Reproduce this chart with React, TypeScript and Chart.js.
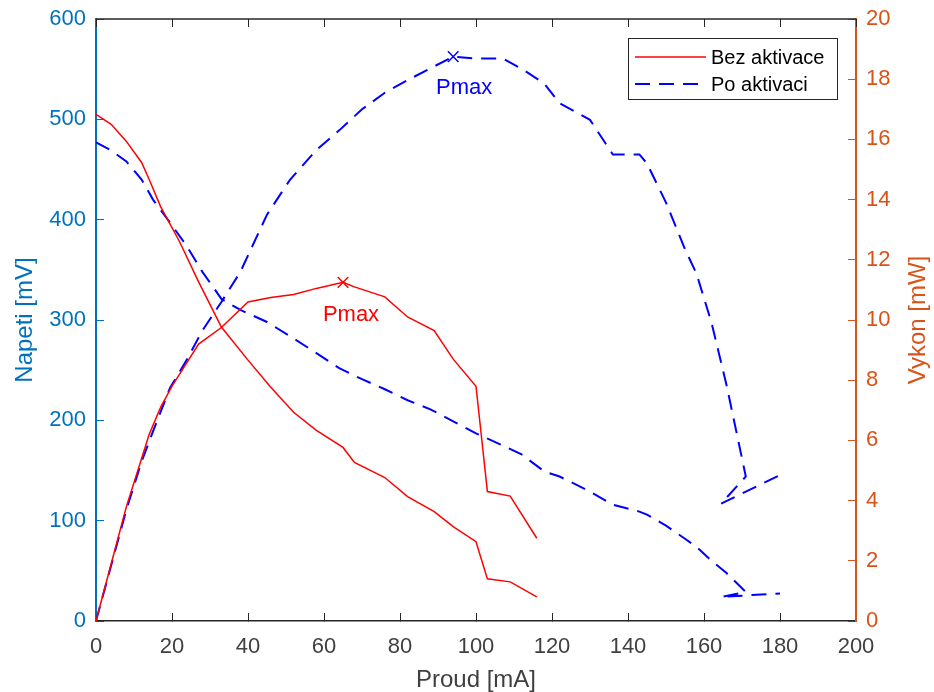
import React, { useEffect, useRef } from "react";
import { Chart, registerables } from "chart.js";

Chart.register(...registerables);

// ---- Data ----
// Bez aktivace (without activation)
const redCurrent = [0, 4, 8, 12, 14, 17, 20, 22, 27, 33, 40, 46, 52, 58, 65, 68, 76, 82, 89, 94, 100, 103, 109, 116];
const redVoltage = [505, 495, 478, 457, 440, 413, 392, 378, 338, 293, 260, 233, 208, 190, 173, 158, 143, 124, 109, 94, 79, 42, 39, 24];
const redPower = [0, 1.9, 3.8, 5.4, 6.2, 7.1, 7.8, 8.2, 9.2, 9.75, 10.6, 10.75, 10.85, 11.05, 11.25, 11.1, 10.77, 10.1, 9.65, 8.7, 7.8, 4.3, 4.15, 2.75];

// Po aktivaci (after activation)
const blueCurrent = [0, 4, 8, 12, 15, 19.5, 24, 28, 33, 38, 45, 51, 58, 64, 70, 76, 82, 88, 94, 100, 107, 112, 118, 122, 130, 136, 143, 145, 150, 155, 158, 162, 166, 171, 164.5, 180];
const blueVoltage = [477, 469, 458, 440, 420, 397, 373, 348, 321, 310, 298, 284, 267, 252, 241, 231, 220, 211, 199, 187, 175, 166, 149, 144, 129, 116, 109, 106, 95, 82, 74, 60, 47.5, 29, 24, 27.5];
const bluePower = [0, 1.85, 3.7, 5.3, 6.3, 7.75, 8.7, 9.65, 10.6, 11.6, 13.5, 14.65, 15.65, 16.3, 17.0, 17.55, 17.97, 18.36, 18.75, 18.69, 18.69, 18.35, 17.85, 17.2, 16.65, 15.5, 15.5, 15.2, 13.9, 12.35, 11.55, 9.9, 7.8, 4.8, 3.9, 4.85];

// Maximum power points
const redPmaxCurrent = [65];
const redPmaxPower = [11.25];
const bluePmaxCurrent = [94];
const bluePmaxPower = [18.75];

// Axis tick settings
const xTicks = { min: 0, max: 200, step: 20 };
const voltageTicks = { min: 0, max: 600, step: 100 };
const powerTicks = { min: 0, max: 20, step: 2 };

const seriesNames = ["Bez aktivace", "Po aktivaci"];

const FONT = "'Liberation Sans', Arial, Helvetica, sans-serif";
const RED = "#FF0000";
const BLUE = "#0000FF";
const LEFT_COLOR = "#0072BD";
const RIGHT_COLOR = "#D95319";
const DARK = "#262626";
const TEXT_DARK = "#404040";
const DASH = [15, 9];

const toPoints = (xs: number[], ys: number[]) => xs.map((x, i) => ({ x, y: ys[i] }));

const clearPadding = (s: any) => {
  s.paddingTop = 0;
  s.paddingBottom = 0;
  s.paddingLeft = 0;
  s.paddingRight = 0;
};

const overlayPlugin = {
  id: "overlay",
  afterDraw(chart: any) {
    const ctx: CanvasRenderingContext2D = chart.ctx;
    const area = chart.chartArea;
    const midY = (area.top + area.bottom) / 2;
    const xScale = chart.scales.x;
    ctx.save();

    // Top box edge with inward ticks (MATLAB "box on")
    ctx.strokeStyle = DARK;
    ctx.lineWidth = 1.5;
    ctx.beginPath();
    ctx.moveTo(area.left, area.top);
    ctx.lineTo(area.right, area.top);
    ctx.stroke();
    ctx.lineWidth = 1;
    ctx.beginPath();
    for (const t of xScale.ticks) {
      const px = Math.round(xScale.getPixelForValue(t.value)) + 0.5;
      ctx.moveTo(px, area.top);
      ctx.lineTo(px, area.top + 8);
    }
    ctx.stroke();

    // Y axis titles (both read bottom-to-top)
    ctx.font = `24px ${FONT}`;
    ctx.textAlign = "center";
    ctx.textBaseline = "alphabetic";
    ctx.fillStyle = LEFT_COLOR;
    ctx.save();
    ctx.translate(32, midY);
    ctx.rotate(-Math.PI / 2);
    ctx.fillText("Napeti [mV]", 0, 0);
    ctx.restore();
    ctx.fillStyle = RIGHT_COLOR;
    ctx.save();
    ctx.translate(925, midY);
    ctx.rotate(-Math.PI / 2);
    ctx.fillText("Vykon [mW]", 0, 0);
    ctx.restore();

    // Pmax labels
    ctx.font = `22px ${FONT}`;
    ctx.textAlign = "center";
    ctx.textBaseline = "middle";
    const rp = chart.getDatasetMeta(4).data[0];
    const bp = chart.getDatasetMeta(5).data[0];
    if (rp) {
      ctx.fillStyle = RED;
      ctx.fillText("Pmax", rp.x + 8, rp.y + 33);
    }
    if (bp) {
      ctx.fillStyle = BLUE;
      ctx.fillText("Pmax", bp.x + 11, bp.y + 31);
    }

    // Legend
    const lx = 628.5, ly = 38.5, lw = 209, lh = 61;
    ctx.fillStyle = "#FFFFFF";
    ctx.fillRect(lx, ly, lw, lh);
    ctx.strokeStyle = DARK;
    ctx.lineWidth = 1;
    ctx.strokeRect(lx, ly, lw, lh);
    const rows = [
      { y: 57, color: RED, dash: [] as number[], width: 1.5, text: seriesNames[0] },
      { y: 84, color: BLUE, dash: DASH, width: 2, text: seriesNames[1] },
    ];
    ctx.font = `20px ${FONT}`;
    ctx.textAlign = "left";
    ctx.textBaseline = "middle";
    for (const r of rows) {
      ctx.beginPath();
      ctx.setLineDash(r.dash);
      ctx.strokeStyle = r.color;
      ctx.lineWidth = r.width;
      ctx.moveTo(635, r.y);
      ctx.lineTo(706, r.y);
      ctx.stroke();
      ctx.setLineDash([]);
      ctx.fillStyle = "#000000";
      ctx.fillText(r.text, 711, r.y + 1);
    }
    ctx.restore();
  },
};

export default function App() {
  const ref = useRef<HTMLCanvasElement>(null);

  useEffect(() => {
    document.body.style.margin = "0";
    const canvas = ref.current;
    if (!canvas) return;
    const tickFont = { family: FONT, size: 22 };
    const chart = new Chart(canvas, {
      type: "scatter",
      data: {
        datasets: [
          {
            label: seriesNames[0],
            data: toPoints(redCurrent, redVoltage),
            showLine: true,
            borderColor: RED,
            backgroundColor: RED,
            borderWidth: 1.5,
            pointRadius: 0,
            yAxisID: "y",
          },
          {
            label: seriesNames[0] + " P",
            data: toPoints(redCurrent, redPower),
            showLine: true,
            borderColor: RED,
            backgroundColor: RED,
            borderWidth: 1.5,
            pointRadius: 0,
            yAxisID: "y1",
          },
          {
            label: seriesNames[1],
            data: toPoints(blueCurrent, blueVoltage),
            showLine: true,
            borderColor: BLUE,
            backgroundColor: BLUE,
            borderWidth: 2,
            borderDash: DASH,
            pointRadius: 0,
            yAxisID: "y",
          },
          {
            label: seriesNames[1] + " P",
            data: toPoints(blueCurrent, bluePower),
            showLine: true,
            borderColor: BLUE,
            backgroundColor: BLUE,
            borderWidth: 2,
            borderDash: DASH,
            pointRadius: 0,
            yAxisID: "y1",
          },
          {
            label: "Pmax red",
            data: toPoints(redPmaxCurrent, redPmaxPower),
            showLine: false,
            pointStyle: "crossRot",
            pointRadius: 7.5,
            borderColor: RED,
            borderWidth: 1.5,
            yAxisID: "y1",
          },
          {
            label: "Pmax blue",
            data: toPoints(bluePmaxCurrent, bluePmaxPower),
            showLine: false,
            pointStyle: "crossRot",
            pointRadius: 7.5,
            borderColor: BLUE,
            borderWidth: 1.5,
            yAxisID: "y1",
          },
        ],
      },
      options: {
        responsive: false,
        animation: false,
        layout: { padding: { top: 19, left: 0, right: 0, bottom: 0 } },
        plugins: {
          legend: { display: false },
          tooltip: { enabled: false },
        },
        scales: {
          x: {
            type: "linear",
            position: "bottom",
            min: xTicks.min,
            max: xTicks.max,
            ticks: { stepSize: xTicks.step, color: TEXT_DARK, font: tickFont, padding: 21, autoSkip: false, maxRotation: 0 },
            grid: { drawOnChartArea: false, tickLength: -8, color: DARK, lineWidth: 1 },
            border: { color: DARK, width: 1.5 },
            title: {
              display: true,
              text: "Proud [mA]",
              color: TEXT_DARK,
              font: { family: FONT, size: 24, lineHeight: 1 },
              padding: { top: 0, bottom: 0 },
            },
            afterFit: (s: any) => {
              s.height = 71;
              clearPadding(s);
            },
          },
          y: {
            type: "linear",
            position: "left",
            min: voltageTicks.min,
            max: voltageTicks.max,
            ticks: { stepSize: voltageTicks.step, color: LEFT_COLOR, font: tickFont, padding: 18 },
            grid: { drawOnChartArea: false, tickLength: -8, color: LEFT_COLOR, lineWidth: 1 },
            border: { color: LEFT_COLOR, width: 2 },
            afterFit: (s: any) => {
              s.width = 96;
              clearPadding(s);
            },
          },
          y1: {
            type: "linear",
            position: "right",
            min: powerTicks.min,
            max: powerTicks.max,
            ticks: { stepSize: powerTicks.step, color: RIGHT_COLOR, font: tickFont, padding: 18 },
            grid: { drawOnChartArea: false, tickLength: -8, color: RIGHT_COLOR, lineWidth: 1 },
            border: { color: RIGHT_COLOR, width: 2 },
            afterFit: (s: any) => {
              s.width = 78;
              clearPadding(s);
            },
          },
        },
      } as any,
      plugins: [overlayPlugin],
    });
    return () => chart.destroy();
  }, []);

  return (
    <div style={{ width: 934, height: 692 }}>
      <canvas ref={ref} width={934} height={692} style={{ display: "block" }} />
    </div>
  );
}
